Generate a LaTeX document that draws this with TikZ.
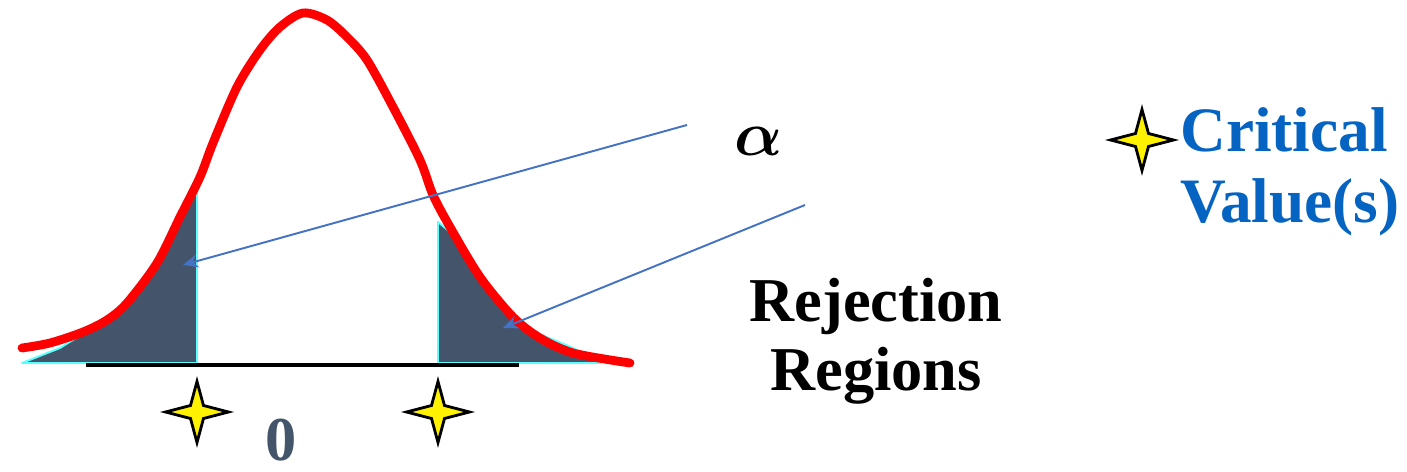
\RequirePackage{fix-cm}
\documentclass[tikz,border=0pt]{standalone}
\usepackage{bm}
\usepackage{fontspec}
\setmainfont{Liberation Serif}
\usetikzlibrary{arrows.meta,positioning}
\definecolor{slate}{RGB}{68,84,106}
\definecolor{accent}{RGB}{68,114,196}
\definecolor{deepblue}{RGB}{5,99,193}
\definecolor{edge}{RGB}{90,255,255}
\tikzset{
  >={Stealth[length=3mm,width=2.6mm]},
  bell/.style={draw=red,line width=5pt,line cap=round,line join=round},
  tail area/.style={fill=slate,draw=edge,line width=1.1pt,line join=round},
  axis line/.style={draw=black,line width=2.8pt},
  pointer/.style={->,draw=accent,line width=1.1pt},
  big/.style={font=\fontsize{35.5}{39}\selectfont\bfseries,inner sep=0pt,align=center},
  % pictograms
  pics/sparkle/.style={code={
    \filldraw[fill=yellow,draw=black,line width=1.6pt,line join=miter,miter limit=20]
      (0,0.61) -- (0.13,0.13) -- (0.63,0) -- (0.13,-0.13) -- (0,-0.61)
      -- (-0.13,-0.13) -- (-0.63,0) -- (-0.13,0.13) -- cycle;
  }},
}

\begin{document}
\begin{tikzpicture}
    \useasboundingbox (0,0) rectangle (28.14,9.44);
    % shaded tails
    \filldraw[tail area] (0.44,2.18) -- plot[smooth,tension=0.5] coordinates {(1.20,2.48) (1.66,2.76) (2.14,3.00)
      (2.54,3.34) (3.14,4.14) (3.60,5.06) (3.94,5.60)} -- (3.94,2.18) -- cycle;
    \filldraw[tail area] (8.76,5.00) -- plot[smooth,tension=0.5] coordinates {(9.00,4.80) (9.60,3.84) (10.26,3.08)
      (10.80,2.76) (11.46,2.48) (12.00,2.18)} -- (8.76,2.18) -- cycle;
    \draw[axis line] (1.72,2.14) -- (10.38,2.14);
    % density curve
    \draw[bell] plot[smooth,tension=0.5] coordinates {(0.44,2.48) (1.00,2.58) (1.66,2.80) (2.14,3.04)
      (2.54,3.38) (3.14,4.18) (3.60,5.10) (4.00,5.90) (4.26,6.58) (4.74,7.70) (5.20,8.44) (5.60,8.90)
      (6.06,9.18) (6.54,9.04) (6.94,8.70) (7.34,8.24) (7.86,7.30) (8.40,6.24) (8.66,5.54) (9.00,4.90)
      (9.60,3.90) (10.26,3.10) (10.80,2.68) (11.46,2.38) (12.60,2.18)};
    % critical values
    \pic at (3.94,1.20) {sparkle};
    \pic at (8.76,1.20) {sparkle};
    \pic at (22.84,6.64) {sparkle};
    \node[big,text=slate] (zero) at (5.62,0.64) {0};
    \node[big,font=\fontsize{36}{40}\selectfont] (alpha) at (15.18,6.62) {$\bm{\alpha}$};
    \node[big] (reject) at (17.52,2.61) {Rejection\\Regions};
    \node[big,align=left,anchor=west,text=deepblue,font=\fontsize{36}{40.5}\selectfont\bfseries]
      (crit) at (23.60,6.00) {Critical\\Value(s)};
    % pointers
    \coordinate (tailL) at (13.74,6.94);
    \coordinate (tipL) at (3.66,4.14);
    \coordinate (tailR) at (16.10,5.34);
    \coordinate (tipR) at (10.06,2.88);
    \draw[pointer] (tailL) -- (tipL);
    \draw[pointer] (tailR) -- (tipR);
  \end{tikzpicture}
\end{document}
